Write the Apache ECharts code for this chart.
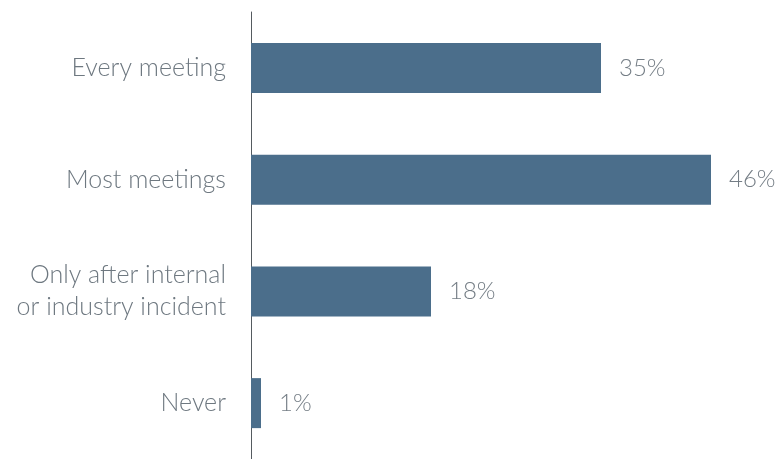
<!DOCTYPE html>
<html>
<head>
<meta charset="utf-8">
<script src="https://cdn.jsdelivr.net/npm/echarts@6/dist/echarts.min.js"></script>
<style>
  html, body { margin: 0; padding: 0; background: #fff; }
  #chart { width: 778px; height: 459px; }
</style>
</head>
<body>
<div id="chart"></div>
<script>
  // answers, top to bottom
  var categories = ['Every meeting', 'Most meetings', 'Only after internal\nor industry incident', 'Never'];
  var values = [35, 46, 18, 1];

  var myChart = echarts.init(document.getElementById('chart'));
  myChart.setOption({
    animation: false,
    grid: {
      left: 251,
      right: 27,
      top: 12,
      bottom: -1
    },
    xAxis: {
      type: 'value',
      min: 0,
      max: 50,
      show: false
    },
    yAxis: {
      type: 'category',
      inverse: true,
      data: categories,
      axisLine: {
        show: true,
        lineStyle: { color: '#555b60', width: 1 }
      },
      axisTick: { show: false },
      axisLabel: {
        margin: 25,
        fontFamily: 'Lato',
        fontWeight: 300,
        fontSize: 25,
        lineHeight: 32,
        color: '#6e7880',
        align: 'right'
      }
    },
    series: [{
      type: 'bar',
      data: values,
      barWidth: 50,
      itemStyle: { color: '#4b6e8b' },
      label: {
        show: true,
        position: 'right',
        distance: 18,
        formatter: '{c}%',
        fontFamily: 'Lato',
        fontWeight: 300,
        fontSize: 24,
        color: '#747d85'
      }
    }]
  });
</script>
</body>
</html>
